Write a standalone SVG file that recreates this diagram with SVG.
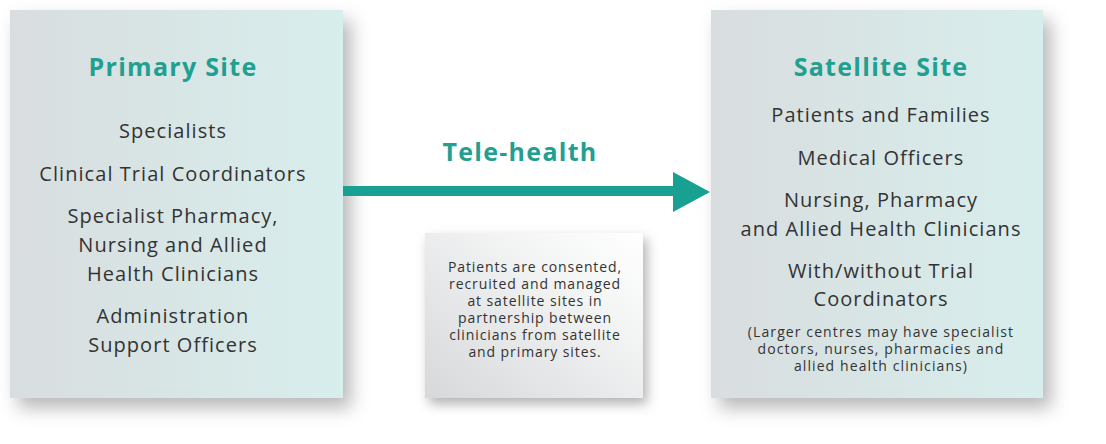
<svg xmlns="http://www.w3.org/2000/svg" width="1106" height="444" viewBox="0 0 1106 444">
<defs>
<linearGradient id="boxGrad" x1="0" y1="0" x2="1" y2="0">
<stop offset="0" stop-color="#d9dddf"/>
<stop offset="1" stop-color="#d7eeec"/>
</linearGradient>
<linearGradient id="noteGrad" x1="0" y1="1" x2="1" y2="0">
<stop offset="0" stop-color="#d6d8da"/>
<stop offset="0.7" stop-color="#f4f5f5"/>
<stop offset="1" stop-color="#ffffff"/>
</linearGradient>
<filter id="shadow" x="-10%" y="-10%" width="130%" height="135%">
<feDropShadow dx="8" dy="10" stdDeviation="9" flood-color="#000" flood-opacity="0.28"/>
</filter>
<filter id="shadowSm" x="-10%" y="-10%" width="130%" height="135%">
<feDropShadow dx="4" dy="6" stdDeviation="6" flood-color="#000" flood-opacity="0.3"/>
</filter>
</defs>
<style>
.title{font-family:"Open Sans","Noto Sans",sans-serif;font-weight:700;font-size:25px;fill:#1fa090;text-anchor:middle;letter-spacing:1.3px}
.body{font-family:"Open Sans","Noto Sans",sans-serif;font-size:20px;fill:#333;text-anchor:middle;letter-spacing:1.05px}
.small{font-family:"Open Sans","Noto Sans",sans-serif;font-size:14px;fill:#333;text-anchor:middle;letter-spacing:1.1px}
.note{font-family:"Open Sans","Noto Sans",sans-serif;font-size:14px;fill:#333;text-anchor:middle;letter-spacing:0.9px}
</style>
<rect width="1106" height="444" fill="#ffffff"/>
<g id="primary-site">
<rect x="10" y="10" width="333" height="388" fill="url(#boxGrad)" filter="url(#shadow)"/>
<text class="title" x="173" y="76">Primary Site</text>
<text class="body" x="173" y="138">Specialists</text>
<text class="body" x="173" y="181">Clinical Trial Coordinators</text>
<text class="body" x="173" y="223">Specialist Pharmacy,</text>
<text class="body" x="173" y="252">Nursing and Allied</text>
<text class="body" x="173" y="281">Health Clinicians</text>
<text class="body" x="173" y="323">Administration</text>
<text class="body" x="173" y="352">Support Officers</text>
</g>
<g id="satellite-site">
<rect x="711" y="10" width="332" height="388" fill="url(#boxGrad)" filter="url(#shadow)"/>
<text class="title" x="881" y="76">Satellite Site</text>
<text class="body" x="881" y="122">Patients and Families</text>
<text class="body" x="881" y="165">Medical Officers</text>
<text class="body" x="881" y="207">Nursing, Pharmacy</text>
<text class="body" x="881" y="236">and Allied Health Clinicians</text>
<text class="body" x="881" y="278">With/without Trial</text>
<text class="body" x="881" y="306">Coordinators</text>
<text class="small" x="881" y="337">(Larger centres may have specialist</text>
<text class="small" x="881" y="354">doctors, nurses, pharmacies and</text>
<text class="small" x="881" y="371">allied health clinicians)</text>
</g>
<g id="note">
<rect x="425" y="233" width="218" height="165" fill="url(#noteGrad)" filter="url(#shadowSm)"/>
<text class="note" x="535" y="272">Patients are consented,</text>
<text class="note" x="535" y="289">recruited and managed</text>
<text class="note" x="535" y="306">at satellite sites in</text>
<text class="note" x="535" y="323">partnership between</text>
<text class="note" x="535" y="340">clinicians from satellite</text>
<text class="note" x="535" y="357">and primary sites.</text>
</g>
<g id="connectors">
<rect x="343" y="186" width="332" height="10" fill="#18a093"/>
<polygon points="673,172 710,192 673,212" fill="#18a093"/>
<text class="title" x="520" y="161">Tele-health</text>
</g>
</svg>
